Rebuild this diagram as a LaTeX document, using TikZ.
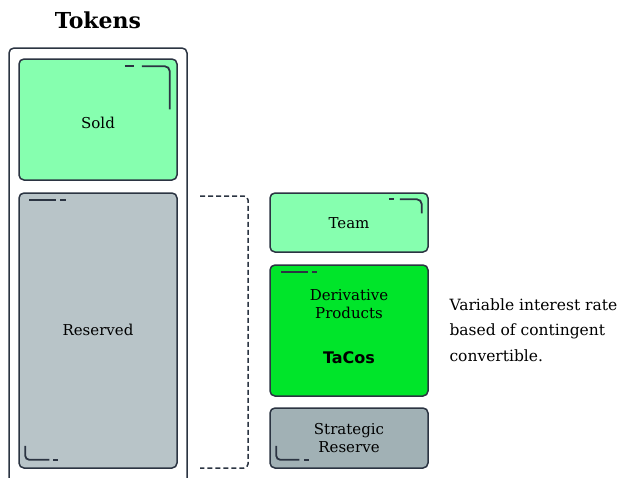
\documentclass[tikz,border=0pt]{standalone}
\usepackage{fontspec}
\setmainfont{DejaVu Serif}
\newfontfamily\boldsans{DejaVu Sans}
\usetikzlibrary{calc}

\definecolor{inkline}{HTML}{2B3442}
\definecolor{soldgreen}{HTML}{86FFAF}
\definecolor{resgray}{HTML}{B8C4C8}
\definecolor{tacogreen}{HTML}{00E52A}
\definecolor{stratgray}{HTML}{A1B1B5}

\newcommand{\nudge}[2]{\raisebox{#1}[\height][\depth]{#2}}

\begin{document}
\begin{tikzpicture}[x=1pt, y=-1pt,
    box/.style={rectangle, draw=inkline, line width=1.5pt, rounded corners=5pt,
      minimum width=158pt, align=center, font=\fontsize{15}{18}\selectfont},
    deco/.style={draw=inkline, line width=1.8pt},
    note/.style={align=left, font=\fontsize{15.5}{25.5}\selectfont}]

  \useasboundingbox (0,0) rectangle (617,477);

  \node[font=\bfseries\fontsize{22}{24}\selectfont] (title) at (98,20) {Tokens};

  % outer column
  \draw[inkline, line width=1.5pt, rounded corners=5pt]
    (9,480) -- (9,48) -- (187,48) -- (187,480);

  \node[box, fill=soldgreen, minimum height=121pt] (sold) at (98,119.5) {\nudge{-3.5pt}{Sold}};
  \node[box, fill=resgray, minimum height=275pt] (res) at (98,330.5) {\nudge{1pt}{Reserved}};

  \node[box, fill=soldgreen, minimum height=59pt] (team) at (349,222.5) {\nudge{-1pt}{Team}};
  \node[box, fill=tacogreen, minimum height=131pt] (deriv) at (349,330.5) {};
  \node[box, fill=stratgray, minimum height=60pt] (strat) at (349,438)
    {Strategic\\[0pt]Reserve};

  \node[align=center, font=\fontsize{15}{18}\selectfont] (derivtext) at (349,304.5)
    {Derivative\\[0pt]Products};
  \node[font=\boldsans\bfseries\fontsize{16}{18}\selectfont] (tacos) at (349,358) {TaCos};

  \node[note, anchor=west] (rate) at (446,330)
    {Variable interest rate\\based of contingent\\convertible.};

  % dashed bracket
  \coordinate (bt) at (200,196);
  \coordinate (bb) at (200,468);
  \draw[inkline, line width=1.5pt, dash pattern=on 5pt off 3pt, rounded corners=4pt]
    (bt) -- ++(48,0) -- (248,468) -- (bb);

  % corner marks
  \draw[deco] (sold.north east) ++(-53,8) -- ++(9,0);
  \draw[deco, rounded corners=5pt] (sold.north east) ++(-36,8) -- ++(28,0) -- ++(0,43);

  \draw[deco] (res.north west) ++(11,8) -- ++(27,0) ++(4,0) -- ++(6,0);
  \draw[deco, rounded corners=4pt] (res.south west) ++(7,-23) -- ++(0,14) -- ++(24,0);
  \draw[deco] (res.south west) ++(35,-9) -- ++(5,0);

  \draw[deco] (team.north east) ++(-40,7) -- ++(5,0);
  \draw[deco, rounded corners=5pt] (team.north east) ++(-29,7) -- ++(22,0) -- ++(0,14);

  \draw[deco] (deriv.north west) ++(12,8) -- ++(27,0) ++(4,0) -- ++(5,0);

  \draw[deco, rounded corners=4pt] (strat.south west) ++(7,-23) -- ++(0,14) -- ++(23,0);
  \draw[deco] (strat.south west) ++(35,-9) -- ++(5,0);

\end{tikzpicture}
\end{document}
